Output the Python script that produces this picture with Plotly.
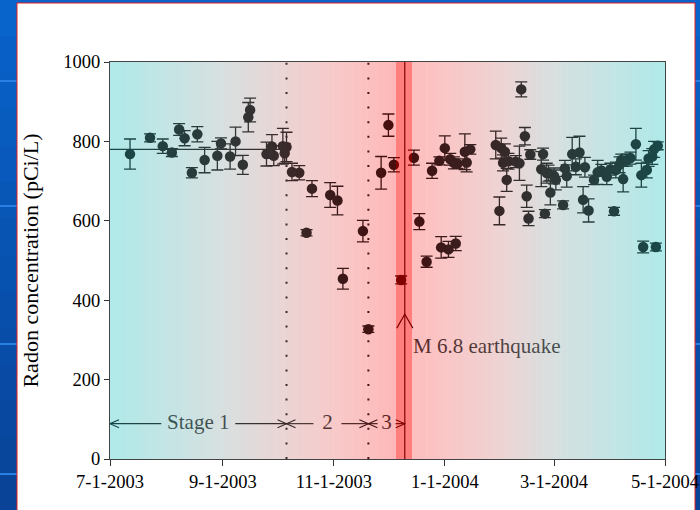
import numpy as np
import pandas as pd
import plotly.graph_objects as go

# ---------------- data ----------------
dates = [
    '2003-07-12', '2003-07-23', '2003-07-30', '2003-08-04', '2003-08-08', '2003-08-11',
    '2003-08-15', '2003-08-18', '2003-08-22', '2003-08-29', '2003-08-31', '2003-09-05',
    '2003-09-08', '2003-09-12', '2003-09-15', '2003-09-16', '2003-09-25', '2003-09-28',
    '2003-09-29', '2003-10-04', '2003-10-05', '2003-10-06', '2003-10-09', '2003-10-13',
    '2003-10-17', '2003-10-20', '2003-10-30', '2003-11-03', '2003-11-06', '2003-11-17',
    '2003-11-20', '2003-11-27', '2003-12-01', '2003-12-04', '2003-12-08', '2003-12-15',
    '2003-12-18', '2003-12-22', '2003-12-25', '2003-12-29', '2003-12-30', '2004-01-01',
    '2004-01-03', '2004-01-04', '2004-01-06', '2004-01-07', '2004-01-08', '2004-01-12',
    '2004-01-13', '2004-01-15', '2004-01-29', '2004-01-31', '2004-02-01', '2004-02-02',
    '2004-02-03', '2004-02-04', '2004-02-05', '2004-02-09', '2004-02-11', '2004-02-12',
    '2004-02-14', '2004-02-15', '2004-02-16', '2004-02-17', '2004-02-23', '2004-02-24',
    '2004-02-25', '2004-02-26', '2004-02-27', '2004-02-28', '2004-03-01', '2004-03-02',
    '2004-03-06', '2004-03-07', '2004-03-08', '2004-03-11', '2004-03-13', '2004-03-15',
    '2004-03-17', '2004-03-18', '2004-03-20', '2004-03-23', '2004-03-25', '2004-03-27',
    '2004-03-30', '2004-04-01', '2004-04-03', '2004-04-04', '2004-04-06', '2004-04-07',
    '2004-04-08', '2004-04-10', '2004-04-12', '2004-04-15', '2004-04-18', '2004-04-19',
    '2004-04-21', '2004-04-22', '2004-04-24', '2004-04-25', '2004-04-26', '2004-04-27',
]
radon = [
    768, 809, 788, 772, 830, 808,
    721, 818, 753, 764, 795, 762,
    800, 741, 861, 879, 768, 787,
    764, 788, 770, 786, 723, 721,
    570, 681, 665, 651, 454, 574,
    327, 721, 841, 741, 451, 759,
    598, 497, 726, 751, 533, 783,
    528, 755, 746, 543, 744, 774,
    747, 780, 791, 625, 783, 746,
    774, 703, 750, 749, 745, 931,
    813, 662, 606, 767, 730, 768,
    618, 720, 720, 671, 713, 703,
    640, 732, 713, 768, 736, 772,
    653, 735, 626, 703, 722, 727,
    711, 730, 624, 728, 741, 753,
    705, 753, 758, 793, 715, 534,
    728, 757, 762, 780, 534, 789,
]
radon_err = [
    38, 10, 18, 10, 15, 19,
    13, 19, 32, 36, 14, 32,
    36, 24, 37, 30, 30, 30,
    25, 45, 25, 37, 22, 18,
    8, 20, 31, 36, 26, 27,
    8, 41, 28, 18, 10, 19,
    20, 14, 19, 10, 27, 31,
    20, 15, 15, 18, 12, 45,
    24, 12, 35, 35, 25, 20,
    20, 29, 20, 15, 43, 19,
    22, 28, 18, 12, 44, 15,
    10, 25, 20, 31, 20, 25,
    10, 20, 28, 42, 20, 41,
    33, 25, 29, 12, 30, 15,
    20, 15, 10, 20, 20, 15,
    32, 15, 15, 40, 30, 15,
    20, 20, 20, 20, 10, 10,
]

x_tick_dates = ['2003-07-01', '2003-09-01', '2003-11-01', '2004-01-01', '2004-03-01', '2004-05-01']
x_tick_labels = ['7-1-2003', '9-1-2003', '11-1-2003', '1-1-2004', '3-1-2004', '5-1-2004']
y_tick_values = [0, 200, 400, 600, 800, 1000]

stage_bounds = ['2003-07-01', '2003-10-06', '2003-11-20', '2003-12-10']
stage_labels = ['Stage 1', '2', '3']
stage1_mean = 780
quake_date = '2003-12-10'
quake_label = 'M 6.8 earthquake'
quake_band = ['2003-12-05', '2003-12-14']

# ---------------- layout geometry / styles ----------------
W, H = 700, 510
ML, MR, MT, MB = 110, 35, 62, 51
PW, PH = W - ML - MR, H - MT - MB
START, END = pd.Timestamp('2003-07-01'), pd.Timestamp('2004-05-01')
TOTAL_DAYS = (END - START).days
PX_PER_DAY = PW / TOTAL_DAYS
SERIF = 'Liberation Serif, Times New Roman, serif'


def pxx(px):
    return (px - ML) / PW


def pxy(py):
    return (H - MB - py) / PH


def day_to_date(d):
    return (START + pd.Timedelta(days=float(d))).strftime('%Y-%m-%d %H:%M:%S.%f')


def to_day(s):
    return (pd.Timestamp(s) - START).total_seconds() / 86400.0


def rgb(c):
    c = np.clip(np.round(c), 0, 255).astype(int)
    return 'rgb(%d,%d,%d)' % tuple(c)


# background tint stops: (date, resulting background colour, colour that black ink takes)
tint_stops = [
    ('2003-07-01', (176, 234, 234), (25, 72, 72)),
    ('2003-09-01', (216, 224, 224), (45, 55, 55)),
    ('2003-10-06', (236, 212, 212), (58, 42, 42)),
    ('2003-11-01', (248, 202, 202), (58, 26, 26)),
    ('2003-12-05', (255, 184, 184), (72, 14, 14)),
    ('2003-12-14', (255, 190, 190), (68, 16, 16)),
    ('2004-01-01', (250, 198, 198), (60, 26, 26)),
    ('2004-02-01', (238, 212, 212), (55, 40, 40)),
    ('2004-03-01', (216, 224, 224), (45, 55, 55)),
    ('2004-05-01', (176, 234, 234), (25, 72, 72)),
]
band_bg, band_ink = (255, 128, 128), (130, 0, 0)

stop_days = np.array([to_day(s[0]) for s in tint_stops])
stop_bg = np.array([s[1] for s in tint_stops], float)
stop_ink = np.array([s[2] for s in tint_stops], float)


def blend(Bc, Mc):
    Bc, Mc = np.array(Bc, float), np.array(Mc, float)
    lo = Mc.max() / 255.0
    hi = (255.0 - Bc + Mc).min() / 255.0
    a = lo if lo <= hi else (lo + hi) / 2
    a = min(max(a, 0.02), 0.98)
    C = np.clip(Mc / a, 0, 255)
    B0 = np.clip((Bc - a * C) / (1 - a), 0, 255)
    return a, C, B0


shapes = []

# slide background (blue) and white panel
top_blue, bot_blue = np.array([8, 100, 204]), np.array([8, 66, 150])
nb = 14
for i in range(nb):
    t = (i + 0.5) / nb
    shapes.append(dict(type='rect', xref='paper', yref='paper', layer='below',
                       x0=pxx(-5), x1=pxx(W + 5), y0=pxy((i + 1) * H / nb + 1), y1=pxy(i * H / nb),
                       fillcolor=rgb(top_blue * (1 - t) + bot_blue * t), line=dict(width=0)))
for py in [80, 205, 343, 473]:
    shapes.append(dict(type='rect', xref='paper', yref='paper', layer='below',
                       x0=pxx(-5), x1=pxx(W + 5), y0=pxy(py + 2), y1=pxy(py),
                       fillcolor='rgb(40,128,226)', line=dict(width=0)))
shapes.append(dict(type='rect', xref='paper', yref='paper', layer='below',
                   x0=pxx(17), x1=pxx(695), y0=pxy(H + 10), y1=pxy(3),
                   fillcolor='white', line=dict(color='rgb(230,30,30)', width=1)))

# gradient strips on pixel boundaries
band_px = [int(round(to_day(quake_band[0]) * PX_PER_DAY)), int(round(to_day(quake_band[1]) * PX_PER_DAY))]
bounds = sorted(set(list(range(0, PW + 1, 3)) + [PW] + band_px))
under, over = [], []
for p0, p1 in zip(bounds[:-1], bounds[1:]):
    mid_day = (p0 + p1) / 2 / PX_PER_DAY
    if band_px[0] <= p0 and p1 <= band_px[1]:
        Bc, Mc = band_bg, band_ink
    else:
        Bc = [np.interp(mid_day, stop_days, stop_bg[:, k]) for k in range(3)]
        Mc = [np.interp(mid_day, stop_days, stop_ink[:, k]) for k in range(3)]
    a, C, B0 = blend(Bc, Mc)
    x0, x1 = day_to_date(p0 / PX_PER_DAY), day_to_date(p1 / PX_PER_DAY)
    under.append(dict(type='rect', xref='x', yref='paper', layer='below', x0=x0, x1=x1, y0=0, y1=1,
                      fillcolor=rgb(B0), line=dict(width=0)))
    Ci = np.clip(np.round(C), 0, 255).astype(int)
    over.append(dict(type='rect', xref='x', yref='paper', layer='above', x0=x0, x1=x1, y0=0, y1=1,
                     fillcolor='rgba(%d,%d,%d,%.4f)' % (Ci[0], Ci[1], Ci[2], a), line=dict(width=0)))
shapes += under

# stage boundary dotted lines
for s in stage_bounds[1:3]:
    shapes.append(dict(type='line', xref='x', yref='paper', layer='below', x0=s, x1=s, y0=0, y1=1,
                       line=dict(color='black', width=2, dash='2px,12.6px')))
# earthquake line
shapes.append(dict(type='line', xref='x', yref='paper', layer='below', x0=quake_date, x1=quake_date,
                   y0=0, y1=1, line=dict(color='black', width=1.2)))
# stage-1 mean line
shapes.append(dict(type='line', xref='x', yref='y', layer='below', x0=stage_bounds[0], x1=stage_bounds[1],
                   y0=stage1_mean, y1=stage1_mean, line=dict(color='black', width=1.2)))

# stage arrows
arrow_y = 89
gap_px = [37, 14, 9]
stage_mid_days = []
for i in range(3):
    d0, d1 = to_day(stage_bounds[i]), to_day(stage_bounds[i + 1])
    mid = (d0 + d1) / 2
    stage_mid_days.append(mid)
    g = gap_px[i] / PX_PER_DAY
    for a0, a1 in [(d0, mid - g), (mid + g, d1)]:
        shapes.append(dict(type='line', xref='x', yref='y', layer='below',
                           x0=day_to_date(a0), x1=day_to_date(a1), y0=arrow_y, y1=arrow_y,
                           line=dict(color='black', width=1.1)))
    shapes.append(dict(type='path', xref='x', yref='y', layer='below', xsizemode='pixel', ysizemode='pixel',
                       xanchor=day_to_date(d0), yanchor=arrow_y, path='M 9,4 L 0,0 L 9,-4',
                       line=dict(color='black', width=1.1)))
    shapes.append(dict(type='path', xref='x', yref='y', layer='below', xsizemode='pixel', ysizemode='pixel',
                       xanchor=day_to_date(d1), yanchor=arrow_y, path='M -9,4 L 0,0 L -9,-4',
                       line=dict(color='black', width=1.1)))
# earthquake arrowhead
shapes.append(dict(type='path', xref='x', yref='y', layer='below', xsizemode='pixel', ysizemode='pixel',
                   xanchor=quake_date, yanchor=365, path='M -8,-14 L 0,0 L 8,-14',
                   line=dict(color='black', width=1.2)))

shapes += over

fig = go.Figure()
fig.add_trace(go.Scatter(
    x=dates, y=radon, mode='markers',
    marker=dict(size=10.5, color='black', line=dict(width=0)),
    error_y=dict(type='data', array=radon_err, visible=True, color='black', thickness=1.3, width=6),
    showlegend=False, hoverinfo='skip'))

label_x = [day_to_date(d) for d in stage_mid_days] + [day_to_date(to_day(quake_date) + 4.5)]
label_y = [arrow_y] * 3 + [280]
fig.add_trace(go.Scatter(
    x=label_x, y=label_y, mode='text', text=stage_labels + [quake_label],
    textposition=['middle center'] * 3 + ['middle right'],
    textfont=dict(family=SERIF, size=21, color='#1e1e1e'),
    showlegend=False, hoverinfo='skip', cliponaxis=False))

fig.update_layout(
    width=W, height=H,
    margin=dict(l=ML, r=MR, t=MT, b=MB, pad=0),
    paper_bgcolor='rgb(8,84,180)', plot_bgcolor='white',
    shapes=shapes, showlegend=False,
    font=dict(family=SERIF, color='black'),
)
fig.update_xaxes(
    type='date', range=[START, END], tickvals=x_tick_dates, ticktext=x_tick_labels,
    ticks='outside', ticklen=6, tickwidth=1.2, tickcolor='#333',
    tickfont=dict(family=SERIF, size=18.5, color='black'),
    showline=True, linecolor='#444', linewidth=1.2, mirror=True,
    showgrid=False, zeroline=False, automargin=False,
)
fig.update_yaxes(
    range=[0, 1000], tickvals=y_tick_values,
    ticks='outside', ticklen=5, tickwidth=1.2, tickcolor='#333',
    tickfont=dict(family=SERIF, size=18.5, color='black'),
    showline=True, linecolor='#444', linewidth=1.2, mirror=True,
    showgrid=False, zeroline=False, automargin=False,
    title=dict(text='Radon concentration (pCi/L)', font=dict(family=SERIF, size=22, color='black'),
               standoff=18),
)

fig.write_html('out.html',
               config={'displayModeBar': False},
               post_script="document.body.style.margin='0px';document.body.style.padding='0px';"
                           "document.body.style.overflow='hidden';")
